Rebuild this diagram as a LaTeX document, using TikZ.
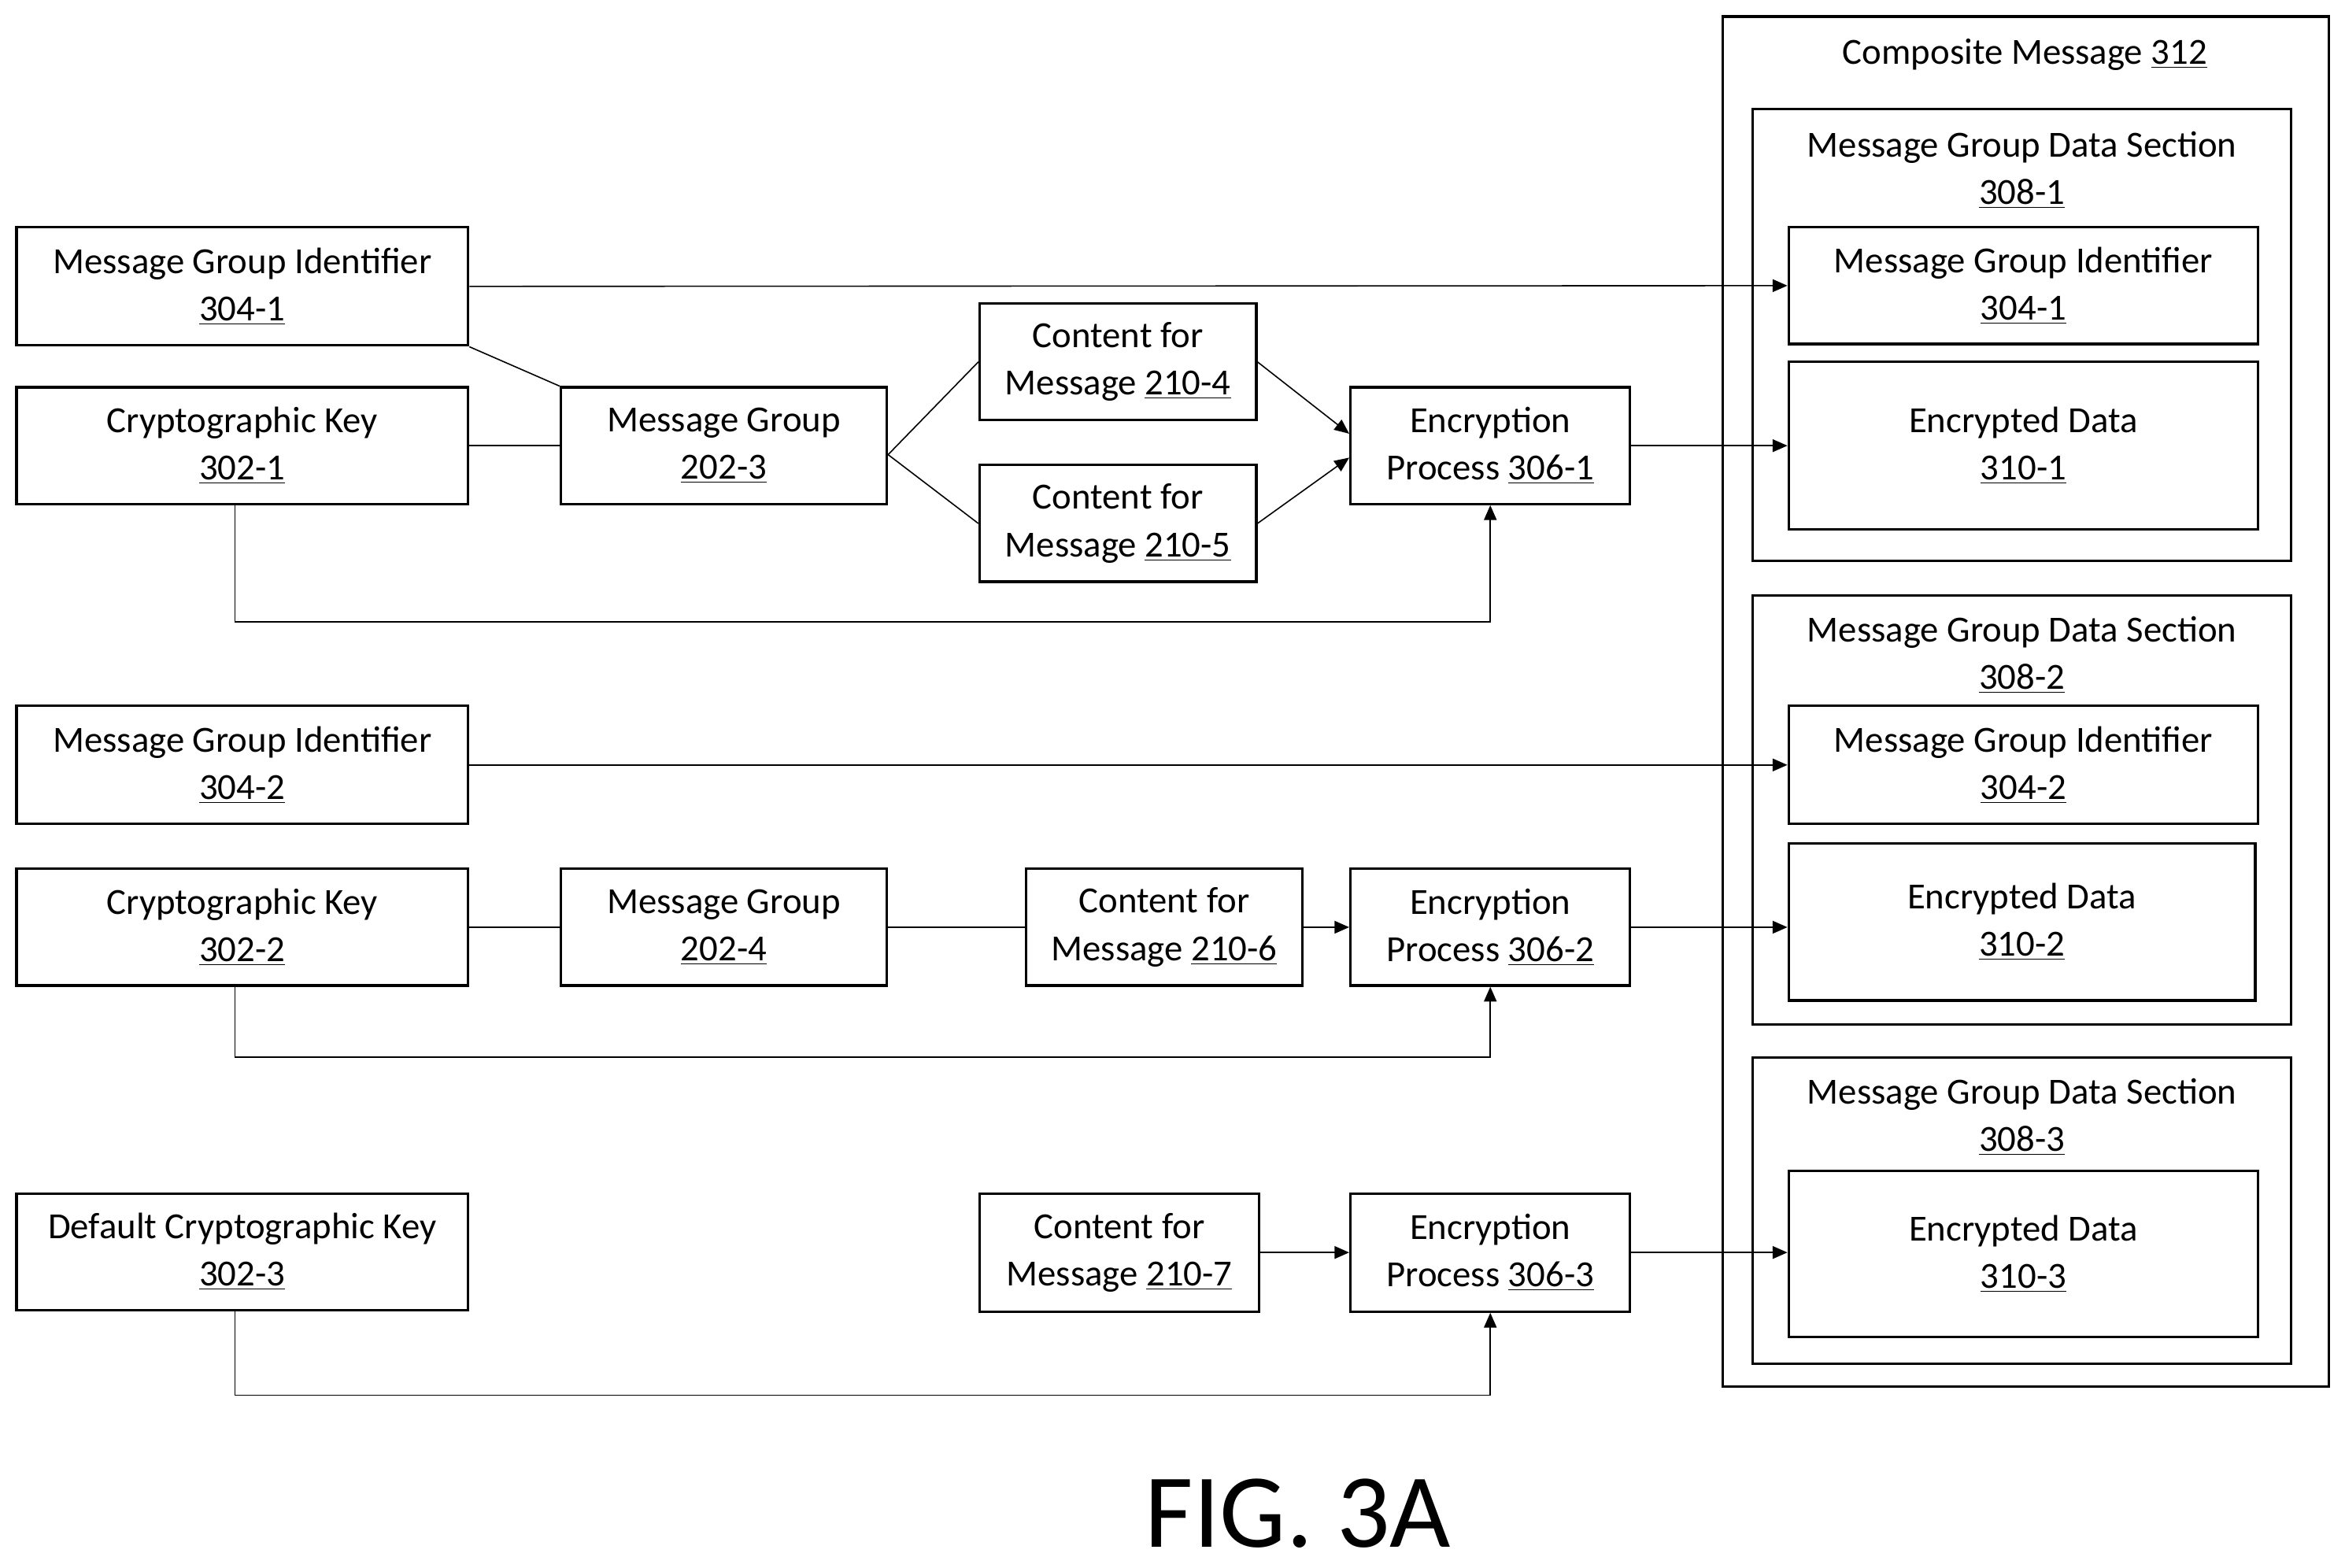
\documentclass[tikz,border=0pt]{standalone}
\usepackage{fontspec}
\setmainfont{Carlito}
\usetikzlibrary{arrows.meta}
\begin{document}
\begin{tikzpicture}[x=0.025cm,y=-0.025cm,
  box/.style={draw,line width=1.2pt,align=center,font=\fontsize{17.5}{22.5}\selectfont,inner sep=0pt},
  frame/.style={draw,line width=1.2pt},
  ttl/.style={align=center,font=\fontsize{17.5}{22.5}\selectfont,anchor=north},
  ln/.style={line width=0.6pt},
  ar/.style={line width=0.6pt,-{Triangle[length=7pt,width=6pt]}}]
\useasboundingbox (0,0) rectangle (1568,1048);
\newcommand{\bx}[6]{\node[box,minimum width=#4*0.025cm,minimum height=#5*0.025cm] (#1) at (#2,#3) {#6};}
% left column
\bx{mgi1}{162}{191.5}{302}{79}{Message Group Identifier\\\underline{304-1}}
\bx{ck1}{162}{298}{302}{78}{Cryptographic Key\\\underline{302-1}}
\bx{mg3}{484}{298}{218}{78}{Message Group\\\underline{202-3}}
\bx{c4}{747.5}{242}{185}{78}{Content for\\Message \underline{210-4}}
\bx{c5}{747.5}{350}{185}{78}{Content for\\Message \underline{210-5}}
\bx{ep1}{996.5}{298}{187}{78}{Encryption\\Process \underline{306-1}}
\bx{mgi2}{162}{511.5}{302}{79}{Message Group Identifier\\\underline{304-2}}
\bx{ck2}{162}{620}{302}{78}{Cryptographic Key\\\underline{302-2}}
\bx{mg4}{484}{620}{218}{78}{Message Group\\\underline{202-4}}
\bx{c6}{778.5}{620}{185}{78}{Content for\\Message \underline{210-6}}
\bx{ep2}{996.5}{620}{187}{78}{Encryption\\Process \underline{306-2}}
\bx{dk}{162}{837}{302}{78}{Default Cryptographic Key\\\underline{302-3}}
\bx{c7}{748.5}{837.5}{187}{79}{Content for\\Message \underline{210-7}}
\bx{ep3}{996.5}{837.5}{187}{79}{Encryption\\Process \underline{306-3}}
% composite
\draw[frame] (1152,11) rectangle (1557,927);
\node[ttl] (cm) at (1354,21) {Composite Message \underline{312}};
\draw[frame] (1172,73) rectangle (1532,375);
\node[ttl] (s1) at (1352,83) {Message Group Data Section\\\underline{308-1}};
\draw[frame] (1172,398) rectangle (1532,685);
\node[ttl] (s2) at (1352,407) {Message Group Data Section\\\underline{308-2}};
\draw[frame] (1172,707) rectangle (1532,912);
\node[ttl] (s3) at (1352,716) {Message Group Data Section\\\underline{308-3}};
\bx{imgi1}{1353}{191}{314}{78}{Message Group Identifier\\\underline{304-1}}
\bx{enc1}{1353}{298}{314}{112}{Encrypted Data\\\underline{310-1}}
\bx{imgi2}{1353}{511.5}{314}{79}{Message Group Identifier\\\underline{304-2}}
\bx{enc2}{1352}{616.5}{312}{105}{Encrypted Data\\\underline{310-2}}
\bx{enc3}{1353}{838.5}{314}{111}{Encrypted Data\\\underline{310-3}}
% connectors
\draw[ar] (mgi1.east) -- (imgi1.west);
\draw[ln] (mgi1.south east) -- (mg3.north west);
\draw[ln] (ck1) -- (mg3);
\draw[ln] ([yshift=-0.15cm]mg3.east) -- (c4.west);
\draw[ln] ([yshift=-0.15cm]mg3.east) -- (c5.west);
\draw[ar] (c4.east) -- ([yshift=0.2cm]ep1.west);
\draw[ar] (c5.east) -- ([yshift=-0.2cm]ep1.west);
\draw[ar] (ep1) -- (enc1);
\draw[ar] ([xshift=-0.12cm]ck1.south) -- ++(0,78) -| (ep1.south);
\draw[ar] (mgi2.east) -- (imgi2.west);
\draw[ln] (ck2) -- (mg4);
\draw[ln] (mg4) -- (c6);
\draw[ar] (c6) -- (ep2);
\draw[ar] (ep2.east) -- (ep2.east -| enc2.west);
\draw[ar] ([xshift=-0.12cm]ck2.south) -- ++(0,47) -| (ep2.south);
\draw[ar] (c7) -- (ep3);
\draw[ar] (ep3.east) -- (ep3.east -| enc3.west);
\draw[ar] ([xshift=-0.12cm]dk.south) -- ++(0,56) -| (ep3.south);
\node[font=\fontsize{50}{56}\selectfont,inner sep=0pt] (fig) at (868,1012) {FIG. 3A};
\end{tikzpicture}
\end{document}
